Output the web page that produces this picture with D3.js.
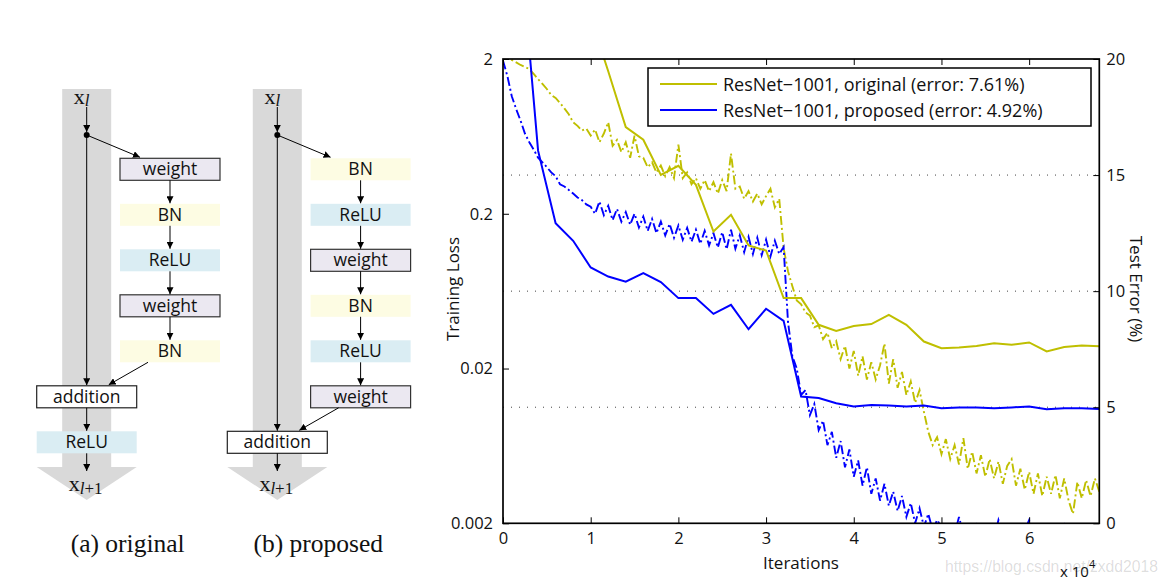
<!DOCTYPE html>
<html><head><meta charset="utf-8">
<script src="https://cdn.jsdelivr.net/npm/d3@7"></script>
<style>body{margin:0;background:#fff}svg{display:block}</style>
</head><body>
<svg id="c" width="1168" height="583"></svg>
<script>
// ---------------- DATA ----------------
const xTicks = [0,1,2,3,4,5,6];
const lossTicks = [0.002,0.02,0.2,2];
const lossTickLabels = ["0.002","0.02","0.2","2"];
const errTicks = [0,5,10,15,20];
const gridErr = [5,10,15];

// test error (%) — solid lines, sampled every 0.2 x 10^4 iterations
const errIterProposed = [0.2,0.4,0.6,0.8,1.0,1.2,1.4,1.6,1.8,2.0,2.2,2.4,2.6,2.8,3.0,3.2,3.4,3.6,3.8,4.0,4.2,4.4,4.6,4.8,5.0,5.2,5.4,5.6,5.8,6.0,6.2,6.4,6.6,6.8];
const errProposed = [24.8,16.05,12.93,12.17,11.02,10.63,10.41,10.78,10.39,9.70,9.70,9.02,9.41,8.36,9.24,8.72,5.46,5.40,5.17,5.03,5.10,5.07,5.03,5.07,4.96,4.99,4.99,4.96,4.99,5.03,4.91,4.96,4.96,4.92];
const errIterOriginal = [1.0,1.2,1.4,1.6,1.8,2.0,2.2,2.4,2.6,2.8,3.0,3.2,3.4,3.6,3.8,4.0,4.2,4.4,4.6,4.8,5.0,5.2,5.4,5.6,5.8,6.0,6.2,6.4,6.6,6.8];
const errOriginal = [21.8,19.47,17.07,16.52,15.01,15.4,14.58,12.57,13.29,11.97,11.75,9.70,9.70,8.55,8.29,8.50,8.58,8.98,8.55,7.83,7.54,7.57,7.64,7.76,7.69,7.79,7.40,7.59,7.66,7.63];

// training loss — dash-dot lines, sampled every 0.05 x 10^4 iterations (0 .. 6.8)
const lossProposed = [
 1.95,1.55,1.15,0.95,0.80,0.66,0.58,0.52,0.46,0.43,
 0.40,0.37,0.35,0.31,0.30,0.285,0.27,0.255,0.245,0.23,
 0.222,0.200,0.240,0.196,0.225,0.182,0.215,0.178,0.205,0.170,
 0.200,0.163,0.192,0.155,0.185,0.150,0.178,0.145,0.172,0.140,
 0.168,0.136,0.162,0.132,0.158,0.128,0.155,0.125,0.150,0.121,
 0.152,0.118,0.158,0.119,0.145,0.113,0.142,0.110,0.140,0.108,
 0.136,0.106,0.134,0.110,0.122,0.040,0.024,0.020,0.0135,0.0145,
 0.0100,0.0118,0.0080,0.0092,0.0064,0.0078,0.0053,0.0068,0.0046,0.0060,
 0.0040,0.0051,0.0035,0.0046,0.0031,0.0039,0.0028,0.0036,0.0026,0.0032,
 0.0024,0.0030,0.0022,0.0027,0.0020,0.0025,0.0019,0.0023,0.0018,0.0021,
 0.0019,0.0018,0.00195,0.0017,0.0022,0.0017,0.0018,0.0016,0.00195,0.0017,
 0.0018,0.00195,0.0016,0.0021,0.0017,0.0018,0.0016,0.0019,0.0017,0.0018,
 0.0021,0.0016,0.0018,0.0017,0.0019,0.0016,0.0018,0.0017,0.00195,0.0016,
 0.0018,0.0017,0.0019,0.0016,0.0018,0.00195,0.0017];
const lossOriginal = [
 2.25,2.1,1.97,1.90,1.83,1.78,1.72,1.60,1.48,1.38,
 1.28,1.17,1.12,1.04,0.96,0.88,0.78,0.74,0.69,0.71,
 0.64,0.70,0.58,0.66,0.78,0.55,0.60,0.50,0.58,0.46,
 0.64,0.47,0.46,0.40,0.43,0.37,0.41,0.35,0.40,0.34,
 0.56,0.34,0.37,0.31,0.34,0.29,0.33,0.28,0.32,0.27,
 0.33,0.28,0.49,0.29,0.30,0.25,0.28,0.24,0.27,0.23,
 0.26,0.29,0.22,0.25,0.12,0.085,0.068,0.055,0.052,0.046,
 0.044,0.037,0.038,0.031,0.034,0.027,0.030,0.023,0.028,0.020,
 0.026,0.018,0.024,0.017,0.022,0.017,0.021,0.029,0.016,0.023,
 0.015,0.019,0.0135,0.0165,0.012,0.0145,0.0105,0.0078,0.0064,0.0072,
 0.0056,0.0070,0.0052,0.0064,0.0048,0.0071,0.0045,0.0058,0.0042,0.0055,
 0.0040,0.0052,0.0039,0.0050,0.0036,0.0047,0.0052,0.0035,0.0045,0.0033,
 0.0043,0.0031,0.0042,0.0030,0.0040,0.0031,0.0041,0.0029,0.0039,0.0028,
 0.0023,0.0037,0.0029,0.0038,0.0030,0.0039,0.0032];
const lossStep = 0.05;

const legendLabels = ["ResNet\u22121001, original (error: 7.61%)","ResNet\u22121001, proposed (error: 4.92%)"];

// diagram labels
const branchOriginal = ["weight","BN","ReLU","weight","BN"];
const branchProposed = ["BN","ReLU","weight","BN","ReLU","weight"];
const captions = ["(a) original","(b) proposed"];

// ---------------- STYLE ----------------
const C_ORIG = "#bfbf00", C_PROP = "#0000ff";
const boxFill = {weight:"#ebe8f1", BN:"#fdfce3", ReLU:"#daedf3", addition:"#ffffff"};
const boxStroke = {weight:"#333", BN:"none", ReLU:"none", addition:"#222"};
const SANS = "'Open Sans', 'Noto Sans', sans-serif";
const SERIF = "'Liberation Serif', 'DejaVu Serif', serif";

const svg = d3.select("#c");
const defs = svg.append("defs");
defs.append("marker").attr("id","ah").attr("viewBox","0 0 10 10").attr("refX",10).attr("refY",5)
  .attr("markerWidth",7).attr("markerHeight",7).attr("markerUnits","userSpaceOnUse").attr("orient","auto")
  .append("path").attr("d","M0,0 L10,5 L0,10 z").attr("fill","#000");

// ---------------- DIAGRAMS ----------------
function drawUnit(offset, branch, postRelu, caption){
  const g = svg.append("g").attr("transform",`translate(${offset},0)`);
  const mx = 86.7, bandW = 49, bandTop = 89, headTop = 467, headTip = 500, headHalf = 50;
  const bLeft = 120, bW = 100, bH = 22, row0 = 158.3, rowStep = 45.5;
  const aLeft = mx - 50, aW = 100;
  const rowY = i => row0 + i*rowStep;
  g.append("path").attr("fill","#d9d9d9")
    .attr("d",`M${mx-bandW/2},${bandTop} L${mx+bandW/2},${bandTop} L${mx+bandW/2},${headTop} L${mx+headHalf},${headTop} L${mx},${headTip} L${mx-headHalf},${headTop} L${mx-bandW/2},${headTop} Z`);
  const line = (x1,y1,x2,y2,arrow=true) => g.append("line").attr("x1",x1).attr("y1",y1).attr("x2",x2).attr("y2",y2)
     .attr("stroke","#000").attr("stroke-width",1).attr("marker-end",arrow?"url(#ah)":null);
  const t1 = g.append("text").attr("x",mx-5).attr("y",104).attr("font-family",SERIF).attr("font-size",22).attr("text-anchor","middle").attr("fill","#111");
  t1.append("tspan").text("x");
  t1.append("tspan").attr("font-style","italic").attr("font-size",17).attr("dy",2).text("l");
  const dotY = 135;
  line(mx,107,mx,dotY-3);
  g.append("circle").attr("cx",mx).attr("cy",dotY).attr("r",3).attr("fill","#000");
  line(mx,dotY,bLeft+20,rowY(0)-1);
  branch.forEach((lab,i)=>{
    g.append("rect").attr("x",bLeft).attr("y",rowY(i)).attr("width",bW).attr("height",bH)
      .attr("fill",boxFill[lab]).attr("stroke",boxStroke[lab]).attr("stroke-width",1.2);
    g.append("text").attr("x",bLeft+bW/2).attr("y",rowY(i)+bH/2+6).attr("text-anchor","middle")
      .attr("font-family",SANS).attr("font-size",17.5).attr("fill","#111").text(lab);
    if(i>0) line(bLeft+bW/2,rowY(i-1)+bH,bLeft+bW/2,rowY(i)-0.5);
  });
  const nb = branch.length;
  const addY = rowY(nb);
  line(mx,dotY,mx,addY-0.5);
  line(bLeft+28,rowY(nb-1)+bH,mx+22,addY-1);
  const mainBoxes = ["addition"].concat(postRelu ? ["ReLU"] : []);
  mainBoxes.forEach((lab,j)=>{
    const yy = rowY(nb+j);
    g.append("rect").attr("x",aLeft).attr("y",yy).attr("width",aW).attr("height",bH)
      .attr("fill",boxFill[lab]).attr("stroke",boxStroke[lab]).attr("stroke-width",1.2);
    g.append("text").attr("x",mx).attr("y",yy+bH/2+6).attr("text-anchor","middle")
      .attr("font-family",SANS).attr("font-size",17.5).attr("fill","#111").text(lab);
    if(j>0) line(mx,rowY(nb+j-1)+bH,mx,yy-0.5);
  });
  const lastY = rowY(nb+mainBoxes.length-1)+bH;
  line(mx,lastY,mx,471);
  const t2 = g.append("text").attr("x",mx-1).attr("y",491).attr("font-family",SERIF).attr("font-size",22).attr("text-anchor","middle").attr("fill","#111");
  t2.append("tspan").text("x");
  t2.append("tspan").attr("font-style","italic").attr("font-size",17).attr("dy",3).text("l");
  t2.append("tspan").attr("font-size",17).text("+1");
  g.append("text").attr("x",mx+41).attr("y",552).attr("text-anchor","middle").attr("font-family",SERIF)
    .attr("font-size",25.5).attr("fill","#111").text(caption);
}
drawUnit(0, branchOriginal, true, captions[0]);
drawUnit(190.6, branchProposed, false, captions[1]);

// ---------------- CHART ----------------
const L = 503, R = 1099.3, T = 59, B = 523.3;
const x = d3.scaleLinear().domain([0,6.8]).range([L,R]);
const yL = d3.scaleLog().domain([0.002,2]).range([B,T]);
const yR = d3.scaleLinear().domain([0,20]).range([B,T]);

defs.append("clipPath").attr("id","plot").append("rect").attr("x",L).attr("y",T).attr("width",R-L).attr("height",B-T);

svg.append("g").selectAll("line").data(gridErr).join("line")
  .attr("x1",L).attr("x2",R).attr("y1",d=>yR(d)).attr("y2",d=>yR(d))
  .attr("stroke","#444").attr("stroke-width",1).attr("stroke-dasharray","1,7");

const plot = svg.append("g").attr("clip-path","url(#plot)");
const lossLine = d3.line().x((d,i)=>x(i*lossStep)).y(d=>yL(d));
plot.append("path").datum(lossOriginal).attr("d",lossLine).attr("fill","none").attr("stroke",C_ORIG)
  .attr("stroke-width",1.9).attr("stroke-dasharray","9,3,2,3");
plot.append("path").datum(lossProposed).attr("d",lossLine).attr("fill","none").attr("stroke",C_PROP)
  .attr("stroke-width",1.9).attr("stroke-dasharray","9,3,2,3");
const errLine = it => d3.line().x((d,i)=>x(it[i])).y(d=>yR(d));
plot.append("path").datum(errOriginal).attr("d",errLine(errIterOriginal)).attr("fill","none").attr("stroke",C_ORIG).attr("stroke-width",2);
plot.append("path").datum(errProposed).attr("d",errLine(errIterProposed)).attr("fill","none").attr("stroke",C_PROP).attr("stroke-width",2);

const fs = 16.5;
function styleAxis(g){ g.select(".domain").remove(); g.selectAll("line").attr("stroke","#000");
  g.selectAll("text").attr("font-family",SANS).attr("font-size",fs).attr("fill","#111"); }
svg.append("g").attr("transform",`translate(0,${B})`)
  .call(d3.axisBottom(x).tickValues(xTicks).tickFormat(d3.format("d")).tickSizeInner(-6).tickSizeOuter(0).tickPadding(9)).call(styleAxis);
svg.append("g").attr("transform",`translate(0,${T})`)
  .call(d3.axisTop(x).tickValues(xTicks).tickFormat("").tickSizeInner(-6).tickSizeOuter(0)).call(styleAxis);
svg.append("g").attr("transform",`translate(${L},0)`)
  .call(d3.axisLeft(yL).tickValues(lossTicks).tickFormat((d,i)=>lossTickLabels[i]).tickSizeInner(-6).tickSizeOuter(0).tickPadding(10)).call(styleAxis);
svg.append("g").attr("transform",`translate(${R},0)`)
  .call(d3.axisRight(yR).tickValues(errTicks).tickFormat(d3.format("d")).tickSizeInner(-6).tickSizeOuter(0).tickPadding(7)).call(styleAxis);

svg.append("rect").attr("x",L).attr("y",T).attr("width",R-L).attr("height",B-T)
  .attr("fill","none").attr("stroke","#000").attr("stroke-width",1.7);

svg.append("text").attr("x",801).attr("y",569).attr("text-anchor","middle").attr("font-family",SANS).attr("font-size",17).attr("fill","#111").text("Iterations");
const xm = svg.append("text").attr("x",1060).attr("y",577).attr("font-family",SANS).attr("font-size",15).attr("fill","#111");
xm.append("tspan").text("x 10");
xm.append("tspan").attr("font-size",11).attr("dy",-9).text("4");
svg.append("text").attr("transform","translate(459,289) rotate(-90)").attr("text-anchor","middle").attr("font-family",SANS).attr("font-size",17).attr("fill","#111").text("Training Loss");
svg.append("text").attr("transform","translate(1130,289) rotate(90)").attr("text-anchor","middle").attr("font-family",SANS).attr("font-size",17).attr("fill","#111").text("Test Error (%)");

const lg = svg.append("g");
lg.append("rect").attr("x",648).attr("y",68).attr("width",443).attr("height",58).attr("fill","#fff").attr("stroke","#000").attr("stroke-width",1.5);
[C_ORIG, C_PROP].forEach((c,i)=>{
  const yy = 84 + i*26;
  lg.append("line").attr("x1",660).attr("x2",717).attr("y1",yy).attr("y2",yy).attr("stroke",c).attr("stroke-width",2);
  lg.append("text").attr("x",723).attr("y",yy+6.5).attr("font-family",SANS).attr("font-size",18).attr("fill","#111").text(legendLabels[i]);
});

svg.append("text").attr("x",945).attr("y",572).attr("font-family","'Liberation Sans', Arial, sans-serif").attr("font-size",17)
  .attr("fill","#000").attr("fill-opacity",0.14).attr("textLength",213).attr("lengthAdjust","spacingAndGlyphs").text("https://blog.csdn.net/zxdd2018");
</script></body></html>
